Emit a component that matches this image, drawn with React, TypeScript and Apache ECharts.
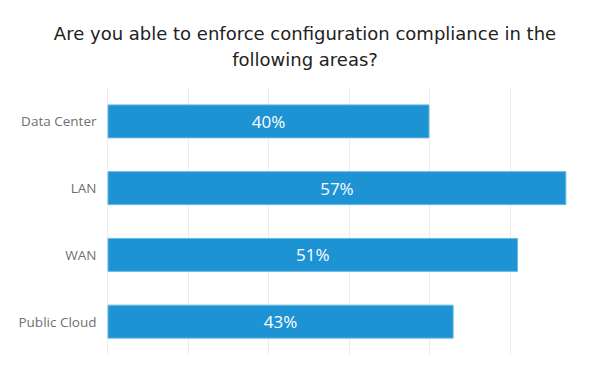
import React, { useEffect, useRef } from "react";
import * as echarts from "echarts";

const titleText = "Are you able to enforce configuration compliance in the\nfollowing areas?";
const categories = ["Data Center", "LAN", "WAN", "Public Cloud"];
const values = [40, 57, 51, 43];
const axisMin = 0;
const axisMax = 60;
const axisInterval = 10;

export default function App() {
  const ref = useRef<HTMLDivElement>(null);
  useEffect(() => {
    if (!ref.current) return;
    const chart = echarts.init(ref.current, null, { renderer: "svg" });
    const gridColors = ["#ececec", "#ececec", "#ececec", "#ececec", "#ececec", "#ececec", "rgba(0,0,0,0)"];
    chart.setOption({
      animation: false,
      backgroundColor: "#ffffff",
      title: {
        text: titleText,
        left: 300,
        top: 15,
        textAlign: "center",
        textStyle: {
          fontFamily: "DejaVu Sans",
          fontSize: 18,
          fontWeight: "normal",
          color: "#222222",
          lineHeight: 26,
          align: "center",
        },
      },
      grid: { left: 107.5, right: 9.5, top: 88, bottom: 22, containLabel: false },
      xAxis: {
        type: "value",
        min: axisMin,
        max: axisMax,
        interval: axisInterval,
        axisLabel: { show: false },
        axisLine: { show: false },
        axisTick: { show: false },
        splitLine: { show: true, lineStyle: { color: gridColors, width: 1 } },
      },
      yAxis: {
        type: "category",
        data: categories,
        inverse: true,
        axisLine: { show: false },
        axisTick: { show: false },
        axisLabel: {
          margin: 11,
          fontFamily: "Open Sans",
          fontSize: 13.5,
          color: "#707070",
        },
      },
      series: [
        {
          type: "bar",
          data: values,
          barWidth: 34,
          itemStyle: { color: "#1e93d3", borderColor: "#6cb9e4", borderWidth: 1 },
          label: {
            show: true,
            position: "inside",
            formatter: "{c}%",
            fontFamily: "Open Sans",
            fontSize: 17,
            color: "#ffffff",
          },
        },
      ],
    });
    return () => chart.dispose();
  }, []);
  return <div ref={ref} style={{ width: 600, height: 377, margin: -8 }} />;
}
